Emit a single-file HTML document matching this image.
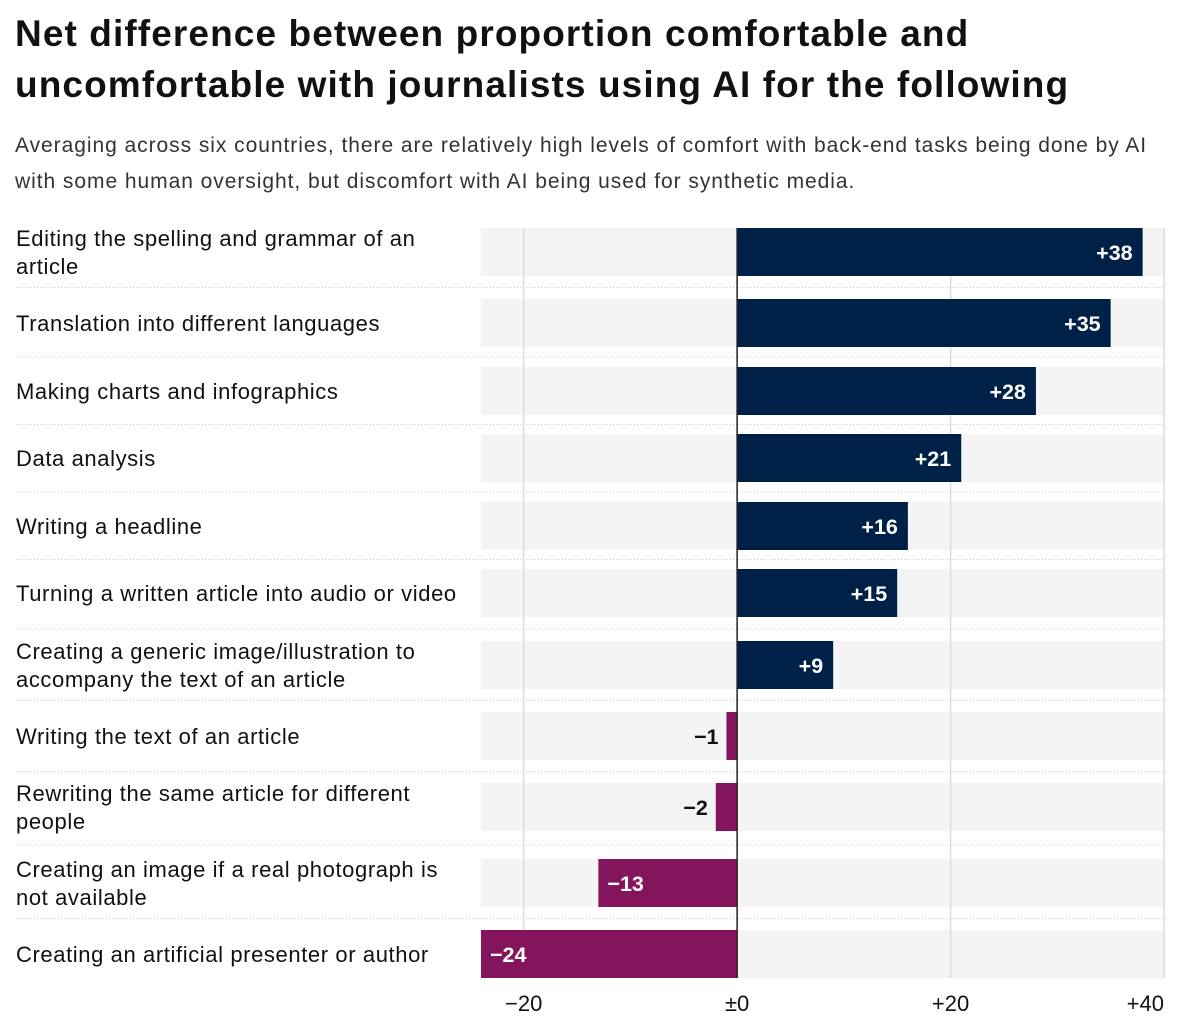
<!DOCTYPE html>
<html><head><meta charset="utf-8">
<style>
body{margin:0;background:#fff;width:1190px;height:1030px;overflow:hidden;font-family:"Liberation Sans",sans-serif;color:#111}
h1{position:absolute;left:15px;top:8px;margin:0;font-size:37px;line-height:51px;font-weight:bold;letter-spacing:1.1px;width:1175px;white-space:nowrap}
p{position:absolute;left:15px;top:128px;margin:0;font-size:21px;line-height:36px;color:#333;width:1175px;letter-spacing:0.95px;white-space:nowrap}
svg{position:absolute;left:0;top:0}
</style></head><body>
<h1>Net difference between proportion comfortable and<br>uncomfortable with journalists using AI for the following</h1>
<p>Averaging across six countries, there are relatively high levels of comfort with back-end tasks being done by AI<br>with some human oversight, but discomfort with AI being used for synthetic media.</p>
<svg id="chart" width="1190" height="1030"></svg>
<script>
const categories=[["Editing the spelling and grammar of an","article"],["Translation into different languages"],["Making charts and infographics"],["Data analysis"],["Writing a headline"],["Turning a written article into audio or video"],["Creating a generic image/illustration to","accompany the text of an article"],["Writing the text of an article"],["Rewriting the same article for different","people"],["Creating an image if a real photograph is","not available"],["Creating an artificial presenter or author"]];
const values=[38,35,28,21,16,15,9,-1,-2,-13,-24];
const tickValues=[-20,0,20,40];
const tickLabels=["\u221220","\u00b10","+20","+40"];
const rowTops=[228,299,367,434,502,569,641,712,783,859,930];
const NS="http://www.w3.org/2000/svg";
const svg=document.getElementById('chart');
const X0=481,X1=1164,D0=-24,D1=40,BH=48;
function x(v){return X0+(v-D0)/(D1-D0)*(X1-X0);}
function mk(t,a,p){const e=document.createElementNS(NS,t);for(const k in a)e.setAttribute(k,a[k]);(p||svg).appendChild(e);return e;}
function fmt(v){return v>0?"+"+v:(v<0?"\u2212"+(-v):"\u00b10");}
categories.forEach((c,i)=>{
  const y=rowTops[i];
  const bg=mk('rect',{x:X0,y:y,width:X1-X0,height:BH,fill:'#f4f4f4'});
  
  
  if(i>0){
    const sy=(rowTops[i-1]+BH+y)/2;
    const s=mk('line',{x1:16,x2:X1,y1:sy,y2:sy,stroke:'#ccc','stroke-width':1,'stroke-dasharray':'1,2'});
    
    
  }
});
tickValues.forEach((t,i)=>{
  if(t===0)return;
  const g=mk('line',{x1:x(t),x2:x(t),y1:228,y2:978,stroke:'#dcdcdc','stroke-width':1.5});
  
  
});
categories.forEach((c,i)=>{
  const y=rowTops[i],v=values[i];
  const lt=mk('text',{x:16,'font-size':22,'letter-spacing':0.6,fill:'#111'});
  
  
  const cy=y+BH/2;
  c.forEach((line,j)=>{
    const ts=mk('tspan',{x:16,y:cy+8+(c.length===2?(j-0.5)*28:0)},lt);
    ts.textContent=line;
  });
  const xa=x(Math.min(0,v)),xb=x(Math.max(0,v));
  const b=mk('rect',{x:xa,y:y,width:xb-xa,height:BH,fill:v>=0?'#002147':'#84145c'});
  
  
  const w=xb-xa,inside=w>60;
  let tx,anchor,col;
  if(v>=0){tx=xb-10;anchor='end';col='#fff';}
  else if(inside){tx=xa+9;anchor='start';col='#fff';}
  else{tx=xa-8;anchor='end';col='#111';}
  const vt=mk('text',{x:tx,y:cy+8,'text-anchor':anchor,'font-size':21.5,'font-weight':'bold',fill:col});
  
  
  vt.textContent=fmt(v);
});
const z=mk('line',{x1:x(0),x2:x(0),y1:228,y2:978,stroke:'#222','stroke-width':1.5});


tickValues.forEach((t,i)=>{
  const last=i===tickValues.length-1;
  const tt=mk('text',{x:last?X1:x(t),y:1011,'text-anchor':last?'end':'middle','font-size':22,fill:'#111'});
  
  
  tt.textContent=tickLabels[i];
});
</script>
</body></html>
